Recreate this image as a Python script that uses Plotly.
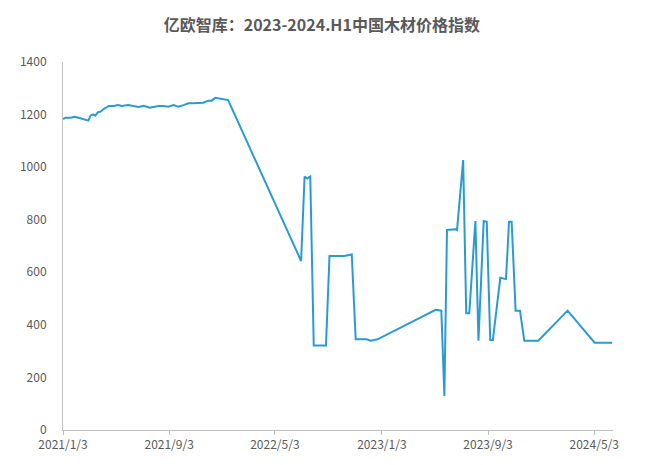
import plotly.graph_objects as go

# 指数数据（日期, 数值）
dates = [
    "2021-01-03", "2021-01-09", "2021-01-20", "2021-01-30", "2021-02-12",
    "2021-03-02", "2021-03-07", "2021-03-13", "2021-03-18", "2021-03-24",
    "2021-03-30", "2021-04-06", "2021-04-18", "2021-04-29", "2021-05-09",
    "2021-05-18", "2021-06-01", "2021-06-14", "2021-06-25", "2021-07-07",
    "2021-07-20", "2021-08-01", "2021-08-10", "2021-08-21", "2021-09-01",
    "2021-09-13", "2021-09-24", "2021-10-06", "2021-10-17", "2021-10-28",
    "2021-11-09", "2021-11-20", "2021-12-02", "2021-12-09", "2021-12-18",
    "2022-01-01", "2022-01-16",
    "2022-07-02", "2022-07-10", "2022-07-16", "2022-07-23", "2022-07-31",
    "2022-08-28", "2022-09-05", "2022-10-09", "2022-10-26", "2022-11-04",
    "2022-11-29", "2022-12-09", "2022-12-24",
    "2023-05-06", "2023-05-19", "2023-05-26", "2023-06-01", "2023-06-20",
    "2023-06-24", "2023-07-08", "2023-07-15", "2023-07-22", "2023-08-05",
    "2023-08-12", "2023-08-24", "2023-08-31", "2023-09-08", "2023-09-14",
    "2023-10-01", "2023-10-14", "2023-10-21", "2023-10-27", "2023-11-05",
    "2023-11-15", "2023-11-25", "2023-12-27",
    "2024-03-03", "2024-05-04", "2024-06-13",
]
values = [
    1183, 1188, 1188, 1192, 1186,
    1177, 1196, 1201, 1196, 1209,
    1211, 1221, 1233, 1233, 1236,
    1233, 1236, 1233, 1229, 1233,
    1226, 1230, 1233, 1233, 1230,
    1236, 1230, 1236, 1243, 1243,
    1245, 1245, 1253, 1253, 1264,
    1260, 1255,
    643, 964, 957, 964, 321,
    321, 662, 662, 668, 345,
    345, 340, 345,
    457, 454, 129, 761, 764,
    761, 1027, 444, 444, 795,
    340, 795, 792, 342, 342,
    579, 574, 792, 792, 454,
    454, 340, 340,
    454, 332, 332,
]

tick_dates = ["2021-01-03", "2021-09-03", "2022-05-03", "2023-01-03", "2023-09-03", "2024-05-03"]
tick_text = ["2021/1/3", "2021/9/3", "2022/5/3", "2023/1/3", "2023/9/3", "2024/5/3"]

font = "Noto Sans CJK SC"
grey = "#595959"

fig = go.Figure()
fig.add_trace(go.Scatter(
    x=dates, y=values, mode="lines",
    line=dict(color="#2a9bd2", width=2),
    showlegend=False,
))

# 页面自带 8px 边距，边距按此扣除
fig.update_layout(
    width=647, height=465,
    margin=dict(l=53, r=42, t=54, b=43),
    paper_bgcolor="white", plot_bgcolor="white",
    font=dict(family=font, color=grey, size=12),
    title=dict(
        text="<b>亿欧智库：2023-2024.H1中国木材价格指数</b>",
        x=0.485, xanchor="center", y=0.963, yanchor="middle",
        font=dict(family=font, size=16, color=grey),
    ),
)
fig.update_xaxes(
    type="date", range=["2021-01-03", "2024-06-15"],
    tickvals=tick_dates, ticktext=tick_text,
    showgrid=False, zeroline=False,
    showline=True, linecolor="#bfbfbf", linewidth=1,
    ticks="outside", ticklen=4, tickcolor="#bfbfbf",
    ticklabelstandoff=0,
    tickfont=dict(size=12, color=grey),
)
fig.update_yaxes(
    range=[0, 1400], tickvals=[0, 200, 400, 600, 800, 1000, 1200, 1400],
    showgrid=False, zeroline=False,
    showline=True, linecolor="#bfbfbf", linewidth=1,
    ticks="", ticklabelstandoff=13,
    tickfont=dict(size=12, color=grey),
)

fig.write_html("out.html")
